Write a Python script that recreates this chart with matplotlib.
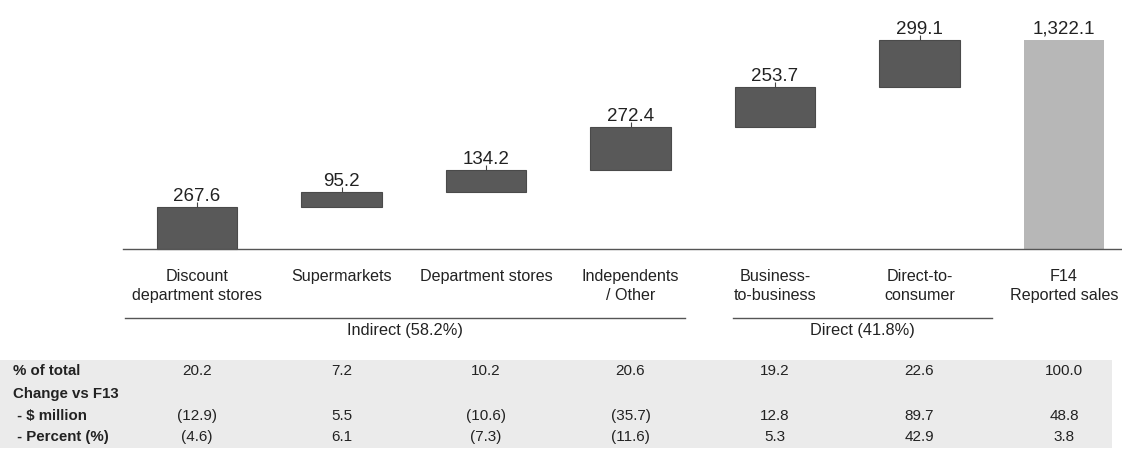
import numpy as np
import matplotlib.pyplot as plt

plt.rcParams['font.family'] = ['Liberation Sans', 'DejaVu Sans']

# F14 sales by channel ($ million), waterfall build-up to reported total
categories = ['Discount\ndepartment stores', 'Supermarkets', 'Department stores',
              'Independents\n/ Other', 'Business-\nto-business', 'Direct-to-\nconsumer',
              'F14\nReported sales']
sales = [267.6, 95.2, 134.2, 272.4, 253.7, 299.1]
total_sales = 1322.1

pct_total = ['20.2', '7.2', '10.2', '20.6', '19.2', '22.6', '100.0']
chg_million = ['(12.9)', '5.5', '(10.6)', '(35.7)', '12.8', '89.7', '48.8']
chg_percent = ['(4.6)', '6.1', '(7.3)', '(11.6)', '5.3', '42.9', '3.8']
row_labels = ['% of total', 'Change vs F13', ' - $ million', ' - Percent (%)']

W, H = 1122, 466
fig = plt.figure(figsize=(W / 100, H / 100), dpi=100)
fig.patch.set_facecolor('white')

# axes spanning the whole figure; x in category units, y in $ million
x0_px, step_px = 197, 144.5
base_px, unit_px = 249, 209 / total_sales
ax = fig.add_axes([0, 0, 1, 1])
ax.set_xlim(-x0_px / step_px, (W - x0_px) / step_px)
ax.set_ylim(-(H - base_px) / unit_px, base_px / unit_px)
ax.axis('off')


def px(x, y):
    # pixel position -> figure fraction
    return x / W, 1 - y / H


x = np.arange(len(categories))
bottoms = np.concatenate([[0], np.cumsum(sales)[:-1]])
tops = bottoms + np.array(sales)

ax.bar(x[:-1], sales, bottom=bottoms, width=0.555, color='#595959',
       edgecolor='#4a4a4a', linewidth=0.8, zorder=3)
ax.bar(x[-1], total_sales, width=0.555, color='#b7b7b7', zorder=3)

# value labels with small leader ticks
lab_off = 10.5 / unit_px
for xi, top, val in zip(x[:-1], tops, sales):
    ax.vlines(xi, top, top + 5 / unit_px, color='#444444', lw=0.8, zorder=4)
    ax.text(xi, top + lab_off, f'{val:,.1f}', ha='center', va='center',
            fontsize=13.5, color='#222222')
ax.text(x[-1], total_sales + lab_off, f'{total_sales:,.1f}', ha='center', va='center',
        fontsize=13.5, color='#222222')

# baseline
fig.add_artist(plt.Line2D([123 / W, 1], [1 - base_px / H] * 2, color='#555555', lw=1))

# category labels
for xi, cat in zip(x, categories):
    ax.text(xi, -(269 - base_px) / unit_px, cat, ha='center', va='top',
            fontsize=11.6, color='#222222', linespacing=1.3)

# channel groupings
for x1, x2, label in [(125, 685, 'Indirect (58.2%)'), (733, 992, 'Direct (41.8%)')]:
    fig.add_artist(plt.Line2D([x1 / W, x2 / W], [1 - 318 / H] * 2, color='#555555', lw=1))
    fig.text(*px((x1 + x2) / 2, 330), label, ha='center', va='center',
             fontsize=11.8, color='#222222')

# data table
fig.add_artist(plt.Rectangle(px(0, 448), 1112 / W, 88 / H, color='#ebebeb', lw=0, zorder=0))
row_y = [371, 394, 416, 437]
for ry, lab in zip(row_y, row_labels):
    fig.text(*px(13, ry), lab, ha='left', va='center', fontsize=10.8,
             fontweight='bold', color='#222222')
for ry, vals in zip([row_y[0], row_y[2], row_y[3]], [pct_total, chg_million, chg_percent]):
    for xi, v in zip(x, vals):
        ax.text(xi, -(ry - base_px) / unit_px, v, ha='center', va='center',
                fontsize=11, color='#222222')

fig.savefig('out.png', dpi=100)
